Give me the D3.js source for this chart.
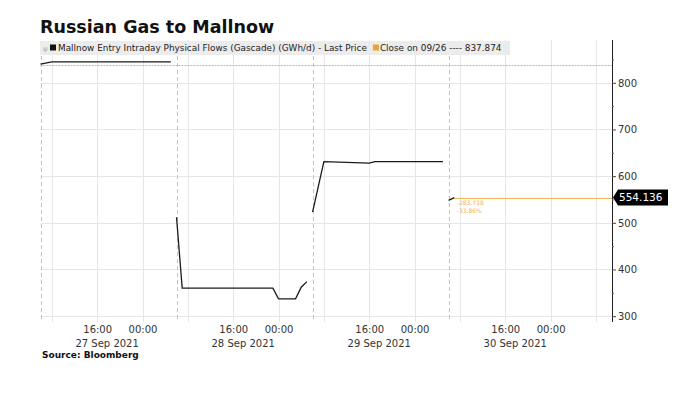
<!DOCTYPE html>
<html>
<head>
<meta charset="utf-8">
<script src="https://cdn.jsdelivr.net/npm/d3@7"></script>
<style>
  body { margin: 0; background: #fff; }
  text { font-family: "DejaVu Sans", sans-serif; }
</style>
</head>
<body>
<svg id="chart" width="675" height="398"></svg>
<script>
const title = "Russian Gas to Mallnow";
const source = "Source: Bloomberg";
const seriesName = "Mallnow Entry Intraday Physical Flows (Gascade) (GWh/d) - Last Price";
const closeLabel = "Close on 09/26 ---- 837.874";
const closeValue = 837.874;
const lastValue = 554.136;
const changeLabels = ["-283.738", "-33.86%"];

// null = break between gas days
const times = [
  "2021-09-27 06:00", "2021-09-27 08:00", "2021-09-27 16:00", "2021-09-28 05:00", "2021-09-28 05:30",
  "2021-09-28 06:00", "2021-09-28 07:00", "2021-09-28 16:00", "2021-09-28 23:00", "2021-09-29 00:00",
  "2021-09-29 03:00", "2021-09-29 04:00", "2021-09-29 05:00", "2021-09-29 05:30",
  "2021-09-29 06:00", "2021-09-29 07:00", "2021-09-29 08:00", "2021-09-29 16:00", "2021-09-29 17:00",
  "2021-09-30 05:00", "2021-09-30 05:30",
  "2021-09-30 06:00", "2021-09-30 07:00"
];
const flows = [
  840, 845, 845, 845, null,
  512, 360, 360, 360, 337,
  337, 362, 374, null,
  523, 577, 631, 628, 631,
  631, null,
  548, 554.136
];

const yTicks = [300, 400, 500, 600, 700, 800];
const yMinorTicks = [350, 450, 550, 650, 750, 850];
const xLabelTimes = [
  "2021-09-27 16:00", "2021-09-28 00:00", "2021-09-28 16:00", "2021-09-29 00:00",
  "2021-09-29 16:00", "2021-09-30 00:00", "2021-09-30 16:00", "2021-10-01 00:00"
];
const dayLabels = ["27 Sep 2021", "28 Sep 2021", "29 Sep 2021", "30 Sep 2021"];
const dayLabelTimes = ["2021-09-27 16:00", "2021-09-28 16:00", "2021-09-29 16:00", "2021-09-30 16:00"];
const xDomain = ["2021-09-27 06:00", "2021-10-01 10:50"];

const parse = d3.timeParse("%Y-%m-%d %H:%M");
const data = times.map((t, i) => ({ t: parse(t), v: flows[i] }));

const M = { left: 40.5, right: 612, top: 40, bottom: 322 };
const svg = d3.select("#chart");

const x = d3.scaleTime().domain(xDomain.map(parse)).range([M.left, M.right]);
const y = d3.scaleLinear().domain([287.5, 891.7]).range([M.bottom, M.top]);
const crisp = v => Math.round(v) + 0.5;

// title
svg.append("text")
  .attr("x", 40).attr("y", 33)
  .style("font-size", "17.5px").style("font-weight", "bold").attr("fill", "#111")
  .text(title);

const g = svg.append("g");

// horizontal grid
g.selectAll(".hgrid").data(yTicks).join("line")
  .attr("x1", M.left).attr("x2", M.right)
  .attr("y1", d => crisp(y(d))).attr("y2", d => crisp(y(d)))
  .attr("stroke", "#e6e6e6").attr("stroke-width", 1);

// vertical grid every 8 hours
const gridTimes = d3.timeHour.every(8).range(x.domain()[0], x.domain()[1]);
g.selectAll(".vgrid").data(gridTimes).join("line")
  .attr("x1", d => crisp(x(d))).attr("x2", d => crisp(x(d)))
  .attr("y1", M.top).attr("y2", M.bottom)
  .attr("stroke", "#e6e6e6").attr("stroke-width", 1);

// gas day separators (06:00), only where data exists
const last = data[data.length - 1];
const dayStarts = d3.timeHour.range(x.domain()[0], last.t).filter(d => d.getHours() === 6);
g.selectAll(".dsep").data(dayStarts).join("line")
  .attr("x1", d => crisp(x(d))).attr("x2", d => crisp(x(d)))
  .attr("y1", 56).attr("y2", M.bottom)
  .attr("stroke", "#c4c4c4").attr("stroke-width", 1).attr("stroke-dasharray", "4,3");

// close reference (dotted orange)
g.append("line")
  .attr("x1", M.left).attr("x2", M.right)
  .attr("y1", crisp(y(closeValue))).attr("y2", crisp(y(closeValue)))
  .attr("stroke", "#f0b050").attr("stroke-width", 1).attr("stroke-dasharray", "2,1");

// last price line
g.append("line")
  .attr("x1", x(last.t)).attr("x2", M.right)
  .attr("y1", crisp(y(lastValue))).attr("y2", crisp(y(lastValue)))
  .attr("stroke", "#f0b25a").attr("stroke-width", 1);

g.selectAll(".chg").data(changeLabels).join("text")
  .attr("x", x(last.t) + 2.5).attr("y", (d, i) => y(lastValue) + 7 + i * 8)
  .style("font-size", "6px").attr("fill", "#f0b45a")
  .text(d => d);

// series line
const line = d3.line()
  .defined(d => d.v !== null)
  .x(d => x(d.t)).y(d => y(d.v));
g.append("path")
  .datum(data)
  .attr("d", line)
  .attr("fill", "none").attr("stroke", "#1a1a1a").attr("stroke-width", 1.3);

// legend
const lg = svg.append("g");
lg.append("rect").attr("x", 40).attr("y", 41).attr("width", 470).attr("height", 14).attr("fill", "#ececec");
lg.append("text").attr("x", 43).attr("y", 51).style("font-size", "7px").attr("fill", "#aaa").text("ψ");
lg.append("rect").attr("x", 50).attr("y", 44.5).attr("width", 6).attr("height", 6).attr("fill", "#111");
const t1 = lg.append("text").attr("x", 58).attr("y", 51.3)
  .style("font-size", "8.9px").attr("fill", "#222").text(seriesName);
const w1 = t1.node().getComputedTextLength();
lg.append("rect").attr("x", 58 + w1 + 6).attr("y", 44.5).attr("width", 6).attr("height", 6).attr("fill", "#e8a33d");
lg.append("text").attr("x", 58 + w1 + 13).attr("y", 51.3)
  .style("font-size", "8.9px").attr("fill", "#222").text(closeLabel);

// y axis (right)
const yAxis = svg.append("g").attr("transform", `translate(${M.right},0)`)
  .call(d3.axisRight(y).tickValues(yTicks).tickSize(4).tickPadding(2));
yAxis.select(".domain").attr("d", `M0.5,${M.top}V${M.bottom}`).attr("stroke", "#222");
yAxis.selectAll(".tick text").style("font-size", "10px").attr("fill", "#333")
  .style("font-family", "DejaVu Sans, sans-serif");
yAxis.selectAll(".tick line").attr("stroke", "#444");
svg.append("g").attr("transform", `translate(${M.right},0)`)
  .call(d3.axisRight(y).tickValues(yMinorTicks).tickSize(2).tickFormat(""))
  .call(s => s.select(".domain").remove())
  .selectAll("line").attr("stroke", "#666");

// last price tag
const ty = y(lastValue);
svg.append("path")
  .attr("d", `M${M.right + 1},${ty} L${M.right + 6},${ty - 8} H${M.right + 56} V${ty + 8} H${M.right + 6} Z`)
  .attr("fill", "#000");
svg.append("text").attr("x", M.right + 7).attr("y", ty + 3.7)
  .style("font-size", "10.5px").attr("fill", "#fff").text(d3.format(".3f")(lastValue));

// x axis labels
const xAxis = svg.append("g").attr("transform", `translate(0,${M.bottom})`)
  .call(d3.axisBottom(x).tickValues(xLabelTimes.map(parse)).tickSize(0).tickPadding(4)
    .tickFormat(d3.timeFormat("%H:%M")));
xAxis.select(".domain").remove();
xAxis.selectAll(".tick text").style("font-size", "10px").attr("fill", "#333")
  .style("font-family", "DejaVu Sans, sans-serif");

svg.selectAll(".daylab").data(dayLabelTimes).join("text")
  .attr("x", d => x(parse(d)) + 10).attr("y", 346.5)
  .attr("text-anchor", "middle")
  .style("font-size", "10px").attr("fill", "#333")
  .text((d, i) => dayLabels[i]);

svg.append("text").attr("x", 42).attr("y", 358)
  .style("font-size", "9px").style("font-weight", "bold").attr("fill", "#111")
  .text(source);
</script>
</body>
</html>
